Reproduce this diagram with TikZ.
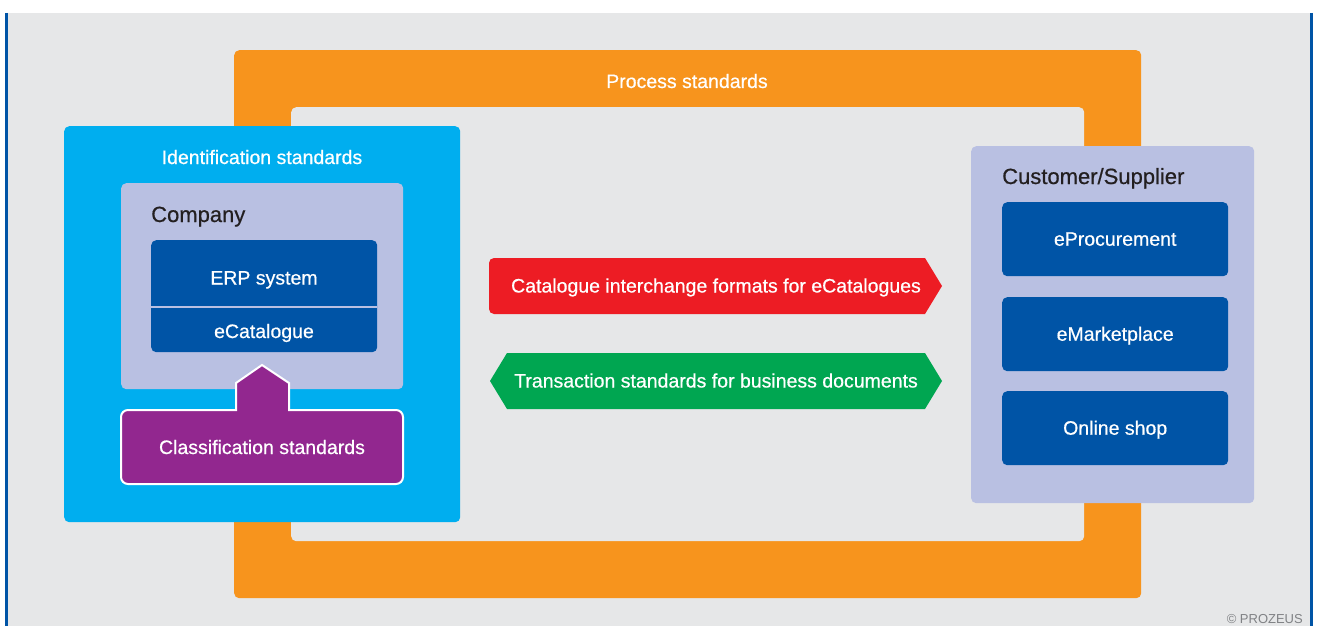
\documentclass[tikz,border=0pt]{standalone}
\usepackage{fontspec}
\setmainfont{Liberation Sans}
\newfontfamily\medfont{Liberation Sans}[FakeBold=0.6]
\definecolor{bggray}{HTML}{E6E7E8}
\definecolor{lineblue}{HTML}{0054A6}
\definecolor{procorange}{HTML}{F7941D}
\definecolor{idcyan}{HTML}{00AEEF}
\definecolor{lav}{HTML}{B9C0E2}
\definecolor{darkblue}{HTML}{0054A6}
\definecolor{classpurple}{HTML}{92278F}
\definecolor{catred}{HTML}{ED1C24}
\definecolor{transgreen}{HTML}{00A651}
\definecolor{titletext}{HTML}{231F20}
\definecolor{copygray}{HTML}{808285}
\begin{document}
\begin{tikzpicture}[x=1pt,y=-1pt,
  box/.style={draw=none, rounded corners=5pt, inner sep=0pt, anchor=north west},
  wtext/.style={text=white, font=\medfont\fontsize{19.5}{23}\selectfont, anchor=base, inner sep=0pt},
  ttext/.style={text=titletext, font=\medfont\fontsize{22}{26}\selectfont, anchor=base west, inner sep=0pt},
  bluebox/.style={box, fill=darkblue, minimum width=226pt, minimum height=74pt}
]
\useasboundingbox (0,0) rectangle (1317,626);
\fill[white] (0,0) rectangle (1317,626);
\fill[bggray] (8,13) rectangle (1310,626);
\draw[lineblue, line width=3pt] (6.5,13) -- (6.5,626) (1311,13) -- (1311,626);

% process standards frame
\node[box, fill=procorange, minimum width=907pt, minimum height=548pt] (proc) at (234,50) {};
\node[box, fill=bggray, minimum width=793pt, minimum height=434pt] (procin) at (291,107) {};
\node[wtext] (proct) at (687,88) {Process standards};

% identification
\node[box, fill=idcyan, minimum width=396pt, minimum height=396pt] (ident) at (64,126) {};
\node[wtext] (identt) at (262,164) {Identification standards};
\node[box, fill=lav, minimum width=282pt, minimum height=206pt] (comp) at (121,183) {};
\node[ttext] (compt) at (151,222) {Company};
\node[box, fill=darkblue, minimum width=226pt, minimum height=112pt] (erpbox) at (151,240) {};
\draw[lav, line width=2pt] (erpbox.west |- 0,307) -- (erpbox.east |- 0,307);
\node[wtext] (erp) at (264,284.5) {ERP system};
\node[wtext] (ecat) at (264,338) {eCatalogue};

% classification
\coordinate (cl) at (121,410);
\path[fill=classpurple, draw=white, line width=2pt]
  (236,410) -- (236,383) -- (262,365) -- (289,383) -- (289,410)
  [rounded corners=7pt] -- (403,410) -- (403,484) -- (121,484) -- (cl) [sharp corners] -- cycle;
\node[wtext] (class) at (262,454) {Classification standards};

% arrows
\path[fill=catred] (700,258) -- (925,258) -- (942,286) -- (925,314) -- (700,314)
  [rounded corners=5pt] -- (489,314) -- (489,258) [sharp corners] -- (700,258) -- cycle;
\node[wtext] (cat) at (716,292.5) {Catalogue interchange formats for eCatalogues};
\path[fill=transgreen] (507,353) -- (925,353) -- (942,381) -- (925,409) -- (507,409) -- (490,381) -- cycle;
\node[wtext] (trans) at (716,387.5) {Transaction standards for business documents};

% customer / supplier
\node[box, fill=lav, minimum width=283pt, minimum height=357pt] (cust) at (971,146) {};
\node[ttext] (custt) at (1002,184) {Customer/Supplier};
\node[bluebox] (eproc) at (1002,202) {};
\node[bluebox] (emark) at (1002,297) {};
\node[bluebox] (shop) at (1002,391) {};
\node[wtext] at ([yshift=-6.5pt]eproc.center) (eproct) {eProcurement};
\node[wtext] at ([yshift=-6.5pt]emark.center) (emarkt) {eMarketplace};
\node[wtext] at ([yshift=-6.5pt]shop.center) (shopt) {Online shop};

% copyright
\node[text=copygray, font=\fontsize{13}{15}\selectfont, anchor=base east, inner sep=0pt] (copy) at (1303,623) {\textcopyright\ PROZEUS};
\end{tikzpicture}
\end{document}
